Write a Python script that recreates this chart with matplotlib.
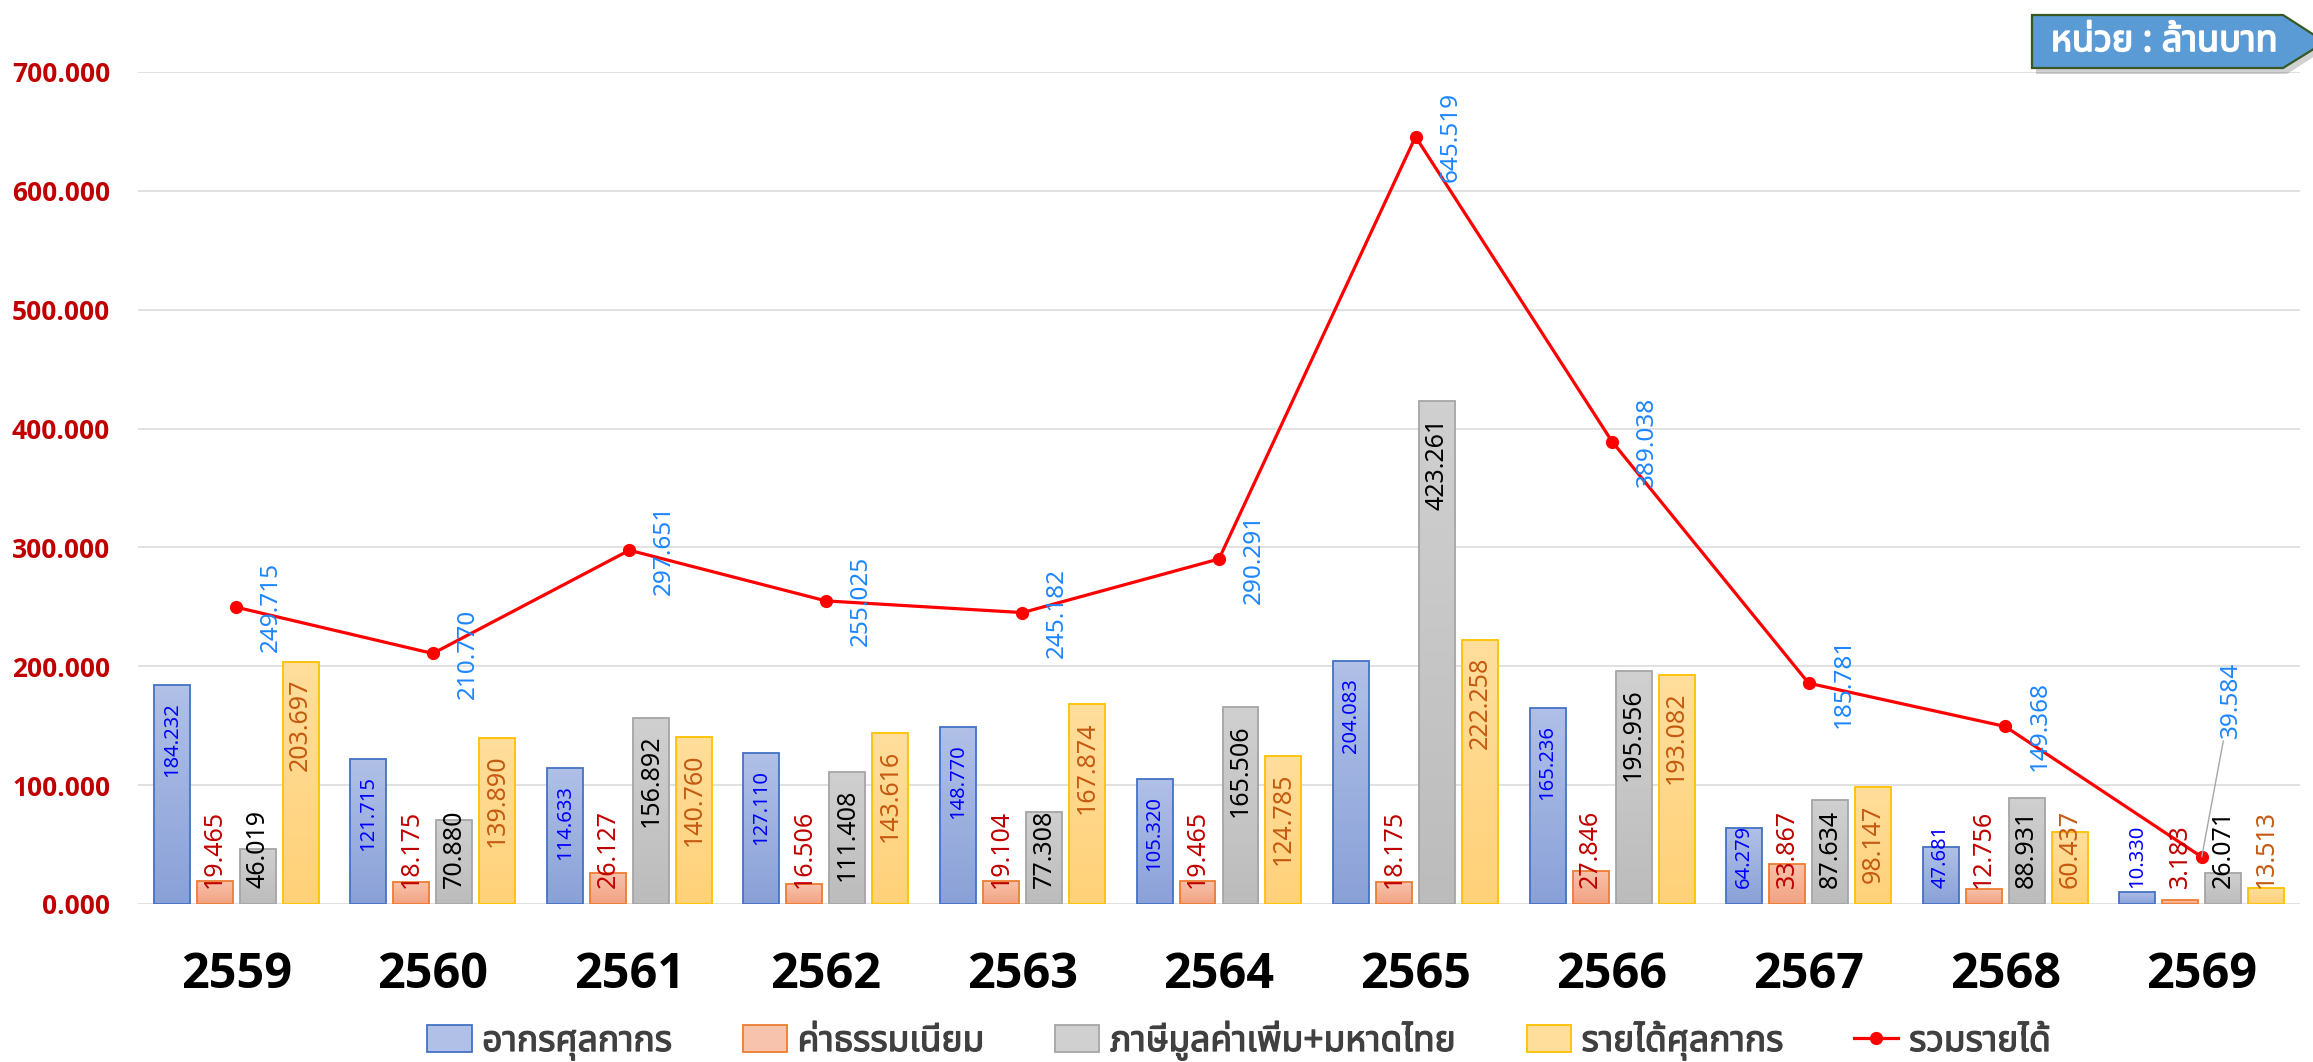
import matplotlib
matplotlib.use('Agg')
import matplotlib.pyplot as plt
import matplotlib.transforms as mtransforms
import matplotlib.patheffects as pe
from matplotlib import font_manager
from matplotlib.ft2font import FT2Font
from matplotlib.colors import LinearSegmentedColormap
from matplotlib.patches import Patch, Polygon
from matplotlib.lines import Line2D
import numpy as np

# data (million baht)
years = ['2559', '2560', '2561', '2562', '2563', '2564', '2565', '2566', '2567', '2568', '2569']
customs_duty = [184.232, 121.715, 114.633, 127.110, 148.770, 105.320, 204.083, 165.236, 64.279, 47.681, 10.330]
fees = [19.465, 18.175, 26.127, 16.506, 19.104, 19.465, 18.175, 27.846, 33.867, 12.756, 3.183]
vat_interior = [46.019, 70.880, 156.892, 111.408, 77.308, 165.506, 423.261, 195.956, 87.634, 88.931, 26.071]
other_income = [203.697, 139.890, 140.760, 143.616, 167.874, 124.785, 222.258, 193.082, 98.147, 60.437, 13.513]
total_income = [249.715, 210.770, 297.651, 255.025, 245.182, 290.291, 645.519, 389.038, 185.781, 149.368, 39.584]

series_names = ['อากรศุลกากร', 'ค่าธรรมเนียม', 'ภาษีมูลค่าเพิ่ม+มหาดไทย', 'รายได้ศุลกากร']
line_name = 'รวมรายได้'
unit_text = 'หน่วย : ล้านบาท'


def find_thai_font():
    preferred = ['Noto Sans Thai', 'Noto Sans Thai UI', 'Noto Sans Thai Looped', 'Sarabun',
                 'Tahoma', 'Leelawadee UI', 'Loma', 'Garuda', 'Umpush', 'Waree', 'Kinnari',
                 'Norasi', 'Laksaman', 'Noto Serif Thai']
    found = {}
    seen = set()
    for f in font_manager.fontManager.ttflist:
        if f.fname in seen:
            continue
        seen.add(f.fname)
        try:
            cmap = FT2Font(f.fname).get_charmap()
        except Exception:
            continue
        if 0x0E01 in cmap and 0x0E48 in cmap:
            found.setdefault(f.name, f.fname)
    for name in preferred:
        if name in found:
            return name
    if found:
        return sorted(found)[0]
    return None


def has_bold(name):
    # true when a real bold face of this family is installed
    for f in font_manager.fontManager.ttflist:
        if f.name == name and isinstance(f.weight, int) and f.weight >= 600:
            return True
        if f.name == name and f.weight in ('bold', 'heavy', 'black', 'semibold', 'demibold'):
            return True
    return False


def has_font(name):
    return any(f.name == name for f in font_manager.fontManager.ttflist)


thai = find_thai_font()
thai_family = [thai, 'DejaVu Sans'] if thai else ['DejaVu Sans']
num_family = ['Noto Sans', 'DejaVu Sans'] if has_font('Noto Sans') else ['DejaVu Sans']
bold_name = 'DejaVu Sans'
for cand in ['Open Sans', 'Noto Sans', 'Lato', 'Roboto', 'Liberation Sans']:
    if has_bold(cand):
        bold_name = cand
        break
bold_family = [bold_name, 'DejaVu Sans']
thai_bold = has_bold(thai) if thai else False

W, H = 2313, 1062
fig = plt.figure(figsize=(W / 100, H / 100), dpi=100)
ax = fig.add_axes([138 / W, 1 - 904 / H, (2300 - 138) / W, (904 - 72) / H])

x = np.arange(len(years))
step = 0.2187
width = 0.183
offsets = [-1.5 * step, -0.5 * step, 0.5 * step, 1.5 * step]
bar_series = [customs_duty, fees, vat_interior, other_income]
tops = ['#B0C0E7', '#F7C3AC', '#D0D0D0', '#FFDE9C']
bottoms = ['#8AA1D8', '#F2A283', '#BCBCBC', '#FFD178']
edges = ['#4472C4', '#ED7D31', '#A5A5A5', '#FFC000']
label_colors = ['#0000FF', '#C00000', '#000000', '#C55A11']
label_sizes = [14.5, 18, 18, 18]

grad = np.linspace(0, 1, 64).reshape(-1, 1)
bar_texts = []
for vals, off, ct, cb, ce, lc, ls in zip(bar_series, offsets, tops, bottoms, edges, label_colors, label_sizes):
    cmap = LinearSegmentedColormap.from_list('g', [cb, ct])
    bars = ax.bar(x + off, vals, width, facecolor='none', edgecolor=ce, linewidth=1.3, zorder=3)
    for b, v in zip(bars, vals):
        x0 = b.get_x()
        im = ax.imshow(grad, cmap=cmap, origin='lower', aspect='auto',
                       extent=[x0, x0 + width, 0, v], zorder=2, interpolation='bilinear')
        im.set_clip_path(b)
        t = ax.text(x0 + width / 2, v, f'{v:.3f}', rotation=90, ha='center', va='top',
                    color=lc, fontsize=ls, family=num_family, zorder=6,
                    transform=ax.transData + mtransforms.ScaledTranslation(0, -0.17, fig.dpi_scale_trans))
        bar_texts.append(t)

ax.plot(x, total_income, color='#FF0000', lw=2.3, marker='o', ms=8.5, zorder=5)
for i, v in enumerate(total_income):
    if i < len(total_income) - 1:
        ax.annotate(f'{v:.3f}', (x[i], v), xytext=(25, 0), textcoords='offset points',
                    rotation=90, ha='center', va='center', color='#1C86FF', fontsize=17.5,
                    family=num_family, zorder=7)
    else:
        ax.annotate(f'{v:.3f}', (x[i], v), xytext=(21, 113), textcoords='offset points',
                    rotation=90, ha='center', va='center', color='#1C86FF', fontsize=17.5,
                    family=num_family, zorder=7,
                    arrowprops=dict(arrowstyle='-', color='#A6A6A6', lw=1.0, shrinkA=0, shrinkB=0))

ax.set_xlim(-0.5, len(years) - 0.5)
ax.set_ylim(0, 700)
yt = np.arange(0, 701, 100)
ax.set_yticks(yt, [f'{t:.3f}' for t in yt], fontweight='bold', family=bold_family,
              fontsize=19, color='#C00000')
ax.set_xticks(x, years, fontweight='bold', family=bold_family, fontsize=35, color='black')
if bold_name == 'DejaVu Sans':
    for lbl in ax.get_yticklabels():
        lbl.set_fontsize(16)
    for lbl in ax.get_xticklabels():
        lbl.set_fontsize(30)
ax.yaxis.grid(True, color='#D9D9D9', lw=1.1)
ax.set_axisbelow(True)
for s in ax.spines.values():
    s.set_visible(False)
ax.tick_params(axis='y', length=0, pad=20)
ax.tick_params(axis='x', length=0, pad=34)

# legend
handles = [Patch(facecolor=ct, edgecolor=ce, linewidth=1.3) for ct, ce in zip(tops, edges)]
handles.append(Line2D([], [], color='#FF0000', lw=2.3, marker='o', ms=8.5))
leg = fig.legend(handles, series_names + [line_name], loc='center',
                 bbox_to_anchor=(1239 / W, 1 - 1040 / H), ncol=5, frameon=False,
                 prop=font_manager.FontProperties(family=thai_family, size=25.5, weight='bold'),
                 labelcolor='#404040', handlelength=1.25, handleheight=0.8, handletextpad=0.3,
                 columnspacing=2.0)
if not thai_bold:
    for t in leg.get_texts():
        t.set_path_effects([pe.withStroke(linewidth=0.9, foreground='#404040')])


# unit box, top right
def fp(px, py):
    return (px / W, 1 - py / H)


shadow = Polygon([fp(2036, 20), fp(2287, 20), fp(2329, 47), fp(2287, 74), fp(2036, 74)],
                 closed=True, transform=fig.transFigure, facecolor='#000000', alpha=0.18,
                 edgecolor='none', zorder=8)
box = Polygon([fp(2032, 15), fp(2283, 15), fp(2325, 42), fp(2283, 68), fp(2032, 68)],
              closed=True, transform=fig.transFigure, facecolor='#5B9BD5', edgecolor='#385723',
              lw=1.6, zorder=9)
fig.patches.extend([shadow, box])
unit = fig.text(2164 / W, 1 - 42 / H, unit_text, ha='center', va='center', color='white',
                fontsize=26, fontweight='bold', family=thai_family, zorder=10)
if not thai_bold:
    unit.set_path_effects([pe.withStroke(linewidth=1.2, foreground='white')])

# short bars: labels sit above the base instead of below the bar top
fig.canvas.draw()
base_px = ax.transData.transform((0, 0))[1]
for t in bar_texts:
    ext = t.get_window_extent()
    if ext.y0 < base_px + 16:
        t.set_y(0)
        t.set_va('bottom')
        t.set_transform(ax.transData + mtransforms.ScaledTranslation(0, 0.16, fig.dpi_scale_trans))

fig.savefig('out.png', dpi=100)
